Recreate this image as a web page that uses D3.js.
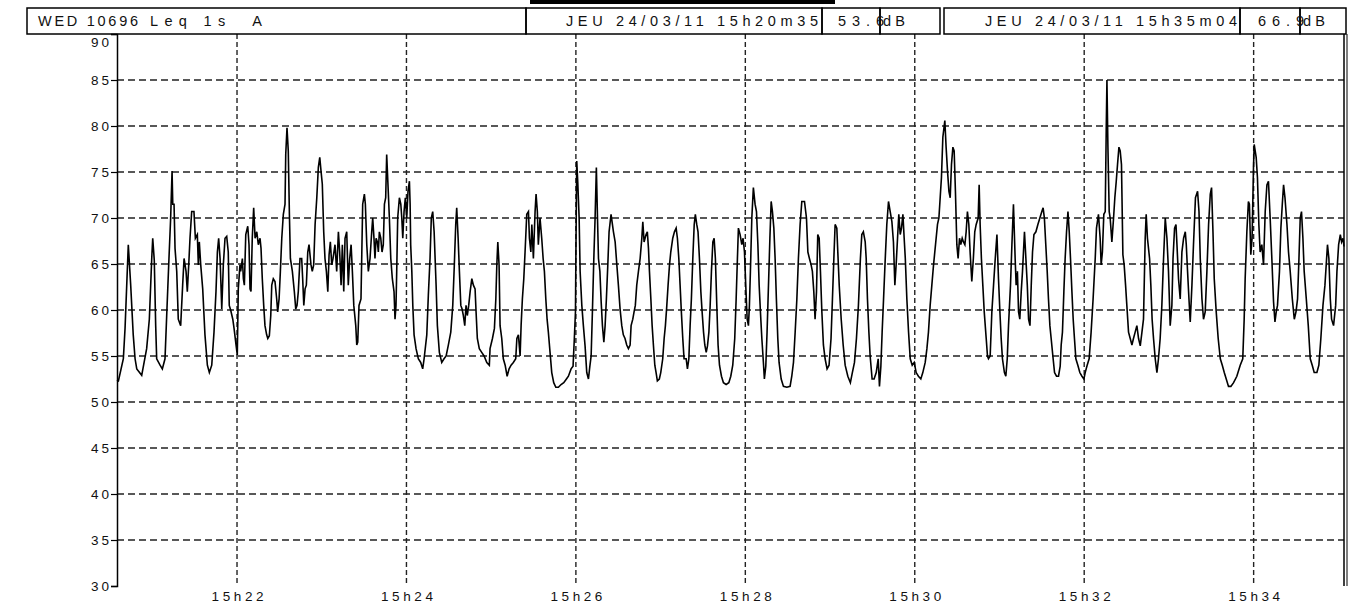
<!DOCTYPE html>
<html>
<head>
<meta charset="utf-8">
<script src="https://cdn.jsdelivr.net/npm/d3@7"></script>
<style>
  body { margin: 0; background: #fff; }
  text { font-family: "Liberation Sans", Arial, sans-serif; fill: #111; }
</style>
</head>
<body>
<div id="chart"></div>
<script>
// header texts
const stationLabel = "WED 10696";
const measureLabel = "Leq 1s\u00a0\u00a0A";
const startStamp = "JEU 24/03/11 15h20m35";
const startLevel = "53.6";
const endStamp = "JEU 24/03/11 15h35m04";
const endLevel = "66.9";
const unitLabel = "dB";

// axis
const startClock = 15 * 3600 + 20 * 60 + 35;   // 15h20m35
const endClock = 15 * 3600 + 35 * 60 + 4;      // 15h35m04
const tickMinutes = [22, 24, 26, 28, 30, 32, 34];
const dbTicks = [30, 35, 40, 45, 50, 55, 60, 65, 70, 75, 80, 85, 90];

// Leq 1s trace: [seconds since 15h20m35, dB(A)]
const leqTrace = [
  [0,52.4],[1,52.3],[4.5,54.7],[5.7,58],[8,67.1],[9.7,62.7],[11.5,57.3],[12.8,54.7],[14,53.6],[17.5,52.9],[21,55.8],[22.9,59],[24.6,65.6],[25.3,67.8],[26.4,65.4],[27.4,58.3],[28.1,54.7],[30.5,54],[32.1,53.6],[34,54.7],[35.2,59.4],[36.8,65.6],[38,70],[39,75.1],[39.5,71.5],[40.4,71.5],[41.1,66.7],[42.3,64.2],[43.4,59],[45.1,58.3],[46.5,62.7],[47.5,65.6],[48.9,64.2],[49.8,62],[50.8,64.9],[51.7,67.8],[52.9,70.7],[54.5,70.7],[55.5,67.8],[56.9,68.2],[57.6,64.9],[58.3,67.4],[59.3,64.9],[60.7,62.3],[62.3,57.3],[64,54],[65.4,53.2],[67.1,54],[68.7,57.6],[70.1,62],[71.1,66.3],[72,67.8],[73,65.6],[74.2,60.1],[75.3,64.9],[76.5,67.8],[77.7,68],[78.8,66.3],[79.5,60.5],[80.5,60],[82,59],[82.9,58],[84.3,56.2],[85.2,55.1],
  [85.9,62.3],[87.1,64.9],[87.6,64.2],[88.8,65.6],[89.5,63.4],[90.2,62.7],[91.2,68.2],[92.6,69.1],[93.5,67.1],[94.2,62.3],[94.9,62],[95.8,67.8],[96.8,71.1],[97.8,67.8],[99,68.5],[100.1,67.1],[101.3,67.8],[102,66.7],[102.9,63.4],[103.9,60.5],[104.8,58.3],[106,57.3],[106.8,56.9],[107.9,57.2],[108.9,59.4],[109.6,62.7],[110.7,63.4],[111.9,63.1],[113.1,61.2],[113.8,59.8],[114.8,61.2],[115.7,64.2],[116.7,67.8],[117.8,70.4],[119,71.5],[119.5,76.9],[120.4,79.8],[121.3,77.3],[122.1,70.4],[122.8,65.6],[124.2,64.2],[125.6,62],[126.6,60.1],[127.5,60.5],[128.4,62],[129.6,65.6],[130.8,65.6],[131.5,63.4],[132.3,60.5],[133.2,62.3],[134.1,62.7],[135.1,66.3],[136,67.1],[137.4,64.9],[138.3,64.2],[139.3,64.9],[140.3,69.3],[141.5,72.2],[142.6,75.5],[143.6,76.6],[144.5,75.1],[145.4,73.7],[146.4,68.5],[147.3,65.6],[148.3,64.2],[149.3,62],[150.2,66],[151.1,67.4],[152.1,64.9],[153,65.6],[154.4,67.1],[155.6,64.2],[156.8,68.5],[157.7,66.3],[158.7,62.7],[159.6,67.1],[160.6,62],[161.5,67.8],[162.7,68.5],[163.8,62.7],[164.8,65.6],[165.8,67.1],[166.7,64.2],[167.7,60.5],[169.1,58.3],[169.8,56.2],[170.5,56.5],[171.4,60.5],[172.8,61.2],[174,71.5],[175.2,72.6],
  [175.9,71.5],[176.9,67.1],[178,64.2],[179.2,65.6],[180.4,68.5],[181.1,70],[182,67.8],[182.7,65.6],[183.5,67.8],[184.4,67.4],[185.1,66.3],[185.8,68.5],[186.8,67.8],[187.7,66.3],[188.6,67.1],[189.4,71.5],[190.3,72.2],[191,76.9],[192,73.3],[192.9,70],[193.9,65.6],[195,63.4],[196.2,62],[196.9,59],[197.6,60.5],[198.1,64.2],[198.8,70],[200,72.2],[201,71.5],[201.7,70],[202.4,67.8],[203.3,70.7],[204.2,72.2],[205.2,70],[206.1,72.9],[207.1,74],[207.6,71.5],[208,67.1],[208.8,64.2],[209.5,60.5],[210.4,57.3],[211.8,55.8],[213.4,54.7],[215.1,54.3],[216.5,53.6],[217.5,54.7],[219.4,57.3],[220.5,61.6],[221.7,65.6],[222.6,70],[223.6,70.7],[224.6,68.5],[225.3,65.6],[226,62.7],[226.9,58.3],[228.3,55.4],[230,54.3],[231.6,54.7],[233.1,55],[234.7,56.2],[236.4,57.6],[237.8,60.5],[238.9,64.9],[239.9,69.3],[240.6,71.1],[241.6,67.8],[242.5,64.2],[243.5,60.5],[244.4,60.1],[245.3,59.4],[246.3,58.3],[247.2,60.5],[248.1,59.4],[249.1,60.5],[250.1,62],[251.3,63.4],[252.4,62.7],[253.6,62.3],[254.3,59.8],[255.2,56.9],[256.6,55.8],[258.3,55.4],[260,55],[261.9,54.3],[263.7,54],
  [264.2,55.8],[265.9,56.9],[267.3,58],[268.3,61.2],[269,64.9],[269.7,67.4],[270.6,64.9],[271.3,58.3],[272.5,56.9],[273.6,54.7],[274.9,54],[276.3,52.8],[277.7,53.6],[279.1,54],[280.7,54.3],[282.4,54.7],[283.2,56.9],[284.3,57.3],[285.5,55],[286.2,58.3],[287.1,61.2],[288.1,63.4],[289,66.3],[290.2,70.4],[291.4,70.7],[292.1,67.8],[293.1,66.3],[293.8,69.3],[294.9,65.6],[296.1,70.7],[296.8,72.6],[297.7,70.7],[298.4,67.1],[299.6,70],[300.8,67.8],[301.8,65.6],[302.7,64.2],[303.7,61.2],[304.6,59],[305.5,57.6],[306.7,55.4],[307.9,53.2],[309.3,52.1],[310.8,51.6],[312.6,51.6],[314.5,51.9],[316.4,52.1],[318.3,52.5],[319.7,52.8],[321.6,53.6],[323,53.9],[323.9,56.9],[324.7,59.8],[325.1,67.8],[325.6,76.2],[326.3,74],[327.3,70],[328,64.2],[329.2,60.5],[330.3,58.3],[331.5,56.1],[332.7,53.2],[333.9,52.5],[334.9,53.9],[335.8,55],[336.7,59.8],[337.7,65.6],[338.6,70],[339.5,75.5],[340.3,70],[341,65.6],[342,64.2],[342.9,60.9],[343.8,58.3],[344.8,56.5],[345.7,58.3],[346.6,61.2],[347.6,64.9],[348.5,68.5],[349.9,70.4],
  [351.6,68.5],[352.8,67.4],[354,64.9],[355.1,62.7],[356.3,60.1],[357.5,58.3],[358.6,57.3],[359.8,56.9],[361,56.2],[362.2,55.8],[363.4,56.2],[364.1,58.3],[365.3,59],[366.2,59.8],[367.1,60.5],[368.1,62.7],[369.3,64.2],[370.5,65.6],[371.7,67.8],[372.4,69.6],[373.3,67.4],[374.7,68.2],[375.6,68.5],[376.4,66.7],[377.1,64.2],[378.1,61.2],[379,58.3],[379.9,56.2],[380.9,54],[381.8,53.2],[382.7,52.3],[384.1,52.5],[385.1,53.2],[386.5,54.7],[387.5,56.9],[388.4,58.3],[389.4,60.5],[390.3,62.7],[391.3,64.9],[392.2,66.3],[393.6,67.8],[394.8,68.5],[396,68.9],[396.9,67.8],[397.9,65.6],[398.8,62.7],[399.7,59.8],[400.7,56.9],[401.6,54.7],[403.1,54.7],[404,53.6],[405,54.7],[405.9,58.3],[406.8,61.2],[407.8,65.6],[408.8,69.3],[409.6,70.4],[410.6,69.3],[411.5,68.5],[412.5,65.6],[413.5,62],[414.4,59.8],[415.4,57.6],[416.3,56.2],[417.3,55.4],[418.2,56.1],[419.2,57.6],[420.1,60.5],[421,64.2],[422,67.4],[422.9,67.8],[423.8,65.6],[424.8,60.5],[425.7,56.2],[426.7,54],[428.1,52.8],[429.5,52.1],[431.4,51.9],[433.3,52.1],[434.7,52.8],[436.1,54],[437.5,56.9],[438.5,61.2],[439.4,65.6],[440.1,68.9],
  [441.3,68.2],[442.5,67.1],[443.4,67.8],[444.4,66.3],[445.3,62.7],[446.3,59],[447.2,58.3],[447.9,60.5],[448.6,64.2],[449.6,70],[450.7,73.3],[451.9,71.5],[452.9,70.7],[453.9,67.1],[454.8,62.7],[455.7,59.8],[456.7,56.9],[457.8,54.3],[458.5,52.5],[459.5,53.9],[460.4,57.6],[461.4,62.7],[462.4,67.8],[463.3,71.8],[464.2,70.7],[465.2,68.9],[466.1,65.6],[467,61.2],[468,56.9],[468.9,54.3],[470.4,52.5],[472,51.7],[474.4,51.6],[476.7,51.7],[477.9,52.8],[479.1,54.3],[480.3,57.6],[481.5,61.2],[482.6,65.6],[483.8,69.3],[485,71.8],[486.9,71.8],[488.3,70],[489.3,66.3],[490.4,65.6],[491.6,64.9],[492.5,64.2],[493.5,62],[494.4,59],[495.4,62],[496.3,68.2],[497.3,67.8],[498.2,64.2],[499.2,59.8],[500.3,56.2],[501.5,54.7],[502.9,53.6],[504.3,54],[505.7,56.9],[506.7,61.2],[507.7,65.6],[508.6,69.3],[509.8,68.9],[510.5,66.3],[511.5,62.7],[512.9,59],[514.3,56.2],[515.7,54],[517.6,52.8],[519.4,52.1],[520.8,53.2],[522.3,54.3],[523.7,56.9],[525.1,60.5],[526.5,65.6],
  [527.5,68.2],[528.6,68.5],[529.9,67.4],[530.6,65.6],[531.5,61.2],[532.5,57.6],[533.4,55],[534.8,52.5],[536.2,52.5],[537.7,53.2],[539.1,54.7],[540,51.7],[541,53.9],[541.9,57.6],[542.9,61.2],[544.1,65.6],[545.2,69.3],[546.4,71.8],[547.6,70.7],[548.8,69.6],[549.9,67.4],[550.9,62.7],[551.8,64.9],[552.8,67.8],[553.7,70.4],[554.7,68.2],[555.6,68.9],[556.6,70.4],[557.5,67.8],[558.3,65.6],[559.4,61.2],[560.6,57.6],[561.8,54.7],[563.2,54],[564.6,54.3],[566,53.2],[567.6,52.8],[569.3,52.5],[570.7,53.2],[572.4,54.3],[573.6,55.8],[574.7,57.6],[575.9,60.5],[577.1,62.7],[578.3,64.9],[579.7,67.1],[581.1,69.3],[582.1,70],[583,72.2],[583.9,74.4],[584.9,78.8],[586.3,80.6],[587.2,77.7],[588.2,75.1],[589.2,72.9],[590.1,72.2],[591,75.8],[592,77.7],[592.9,77.3],[593.8,72.9],[594.8,67.1],[595.7,65.6],[596.7,67.8],[597.6,67.1],[598.6,67.8],[599.5,67.4],[600.5,67.1],[601.4,68.5],[602.3,70.7],[603.3,69.3],[604.2,66.3],[605.4,63.1],[606.5,65.6],[607.5,68.5],[608.5,69.3],[609.9,70],[610.6,73.6],[611.3,69.3],[612.2,65.6],[613.2,62.7],[614.2,59.8],[615.6,56.9],[616.5,55],
  [617.2,54.7],[618.4,55],[619.6,59.8],[620.8,62.7],[622,65.6],[623.2,68.2],[624.3,63.4],[625.3,59.8],[626.2,56.9],[627.1,54.7],[628.5,53.2],[629.5,52.8],[630.5,54.7],[631.4,58.3],[632.8,62.7],[633.8,67.1],[634.9,71.5],[636.1,65.6],[636.8,62.7],[637.7,64.2],[638.5,59.8],[639.4,59],[640.4,62],[641.3,64.2],[642.7,68.5],[643.7,65.6],[644.7,62.7],[645.6,59],[646.6,58.3],[647.5,62.7],[648.4,66.3],[649.4,68.2],[650.8,68.5],[652.2,69.3],[653.6,70],[655,70.7],[655.9,71.1],[656.8,70],[657.8,67.1],[658.8,64.2],[659.7,61.2],[660.7,58.3],[661.6,56.9],[663,54.7],[664,53.2],[665.4,52.8],[666.8,52.8],[668,53.9],[668.7,56.2],[669.6,57.6],[670.6,62],[671.5,65.6],[672.5,68.5],[673.5,70.7],[674.4,68.5],[675.3,65.6],[676.3,62],[677.2,59],[678.1,56.9],[679.1,54.7],[680.5,54],[681.9,53.2],[683.4,52.8],[684.8,52.5],[685.7,53.2],[687.1,54],[688.5,54.7],[689.9,57.6],[691.3,61.2],[692.8,65.6],[693.7,68.9],[695.1,70.4],[696.3,67.8],[697,64.9],[697.9,66.3],[698.9,70.4],[699.9,70.7],[700.6,79.5],[701.1,85],[701.8,77.7],[702.7,70.7],
  [703.4,70],[704.6,67.4],[705.8,70],[706.7,72.2],[707.7,74],[708.6,75.8],[709.6,77.7],[710.5,77.3],[711.4,75.8],[712.4,66],[713.3,64.9],[714.3,62.7],[715.2,60.5],[716.4,57.6],[717.6,56.9],[718.8,56.2],[719.9,56.9],[721.1,57.6],[722.3,58.3],[723.5,56.9],[724.7,56.1],[725.9,57.6],[727,59],[728.2,67.8],[728.9,70.4],[729.8,67.8],[731.3,65.6],[732.2,62.7],[733.1,59],[734.1,56.9],[735.3,54.7],[736.5,53.2],[737.6,54.7],[738.8,56.9],[740,60.5],[741.2,65.6],[742.4,70],[743.6,67.8],[744.7,64.2],[745.9,58.3],[747.1,60.5],[747.9,65.6],[749,68.9],[750,69.3],[750.7,67.1],[751.8,63.4],[753,61.2],[754.2,66.3],[755.4,67.8],[756.6,68.5],[757.3,67.1],[758.2,64.2],[759.2,61.2],[760.1,58.7],[761.3,62.7],[762.4,67.1],[763.8,72.2],[765.3,72.9],[766.3,70.7],[767.2,65.6],[768.4,61.2],[769.5,59],[770.7,59.8],[771.9,64.2],[773.1,69.3],[774.3,72.6],[775.2,73.3],[776.2,68.5],[777.1,63.4],[778.5,59.8],[779.9,56.9],[781.4,54.7],[782.8,54],[784.2,53.2],[785.6,52.5],[787.2,51.7],[788.9,51.7],[790.8,52.1],
  [793.1,52.8],[795.5,54],[797.3,54.7],[798.3,59],[799,63.4],[800.2,68.5],[801.3,71.8],[802,71.5],[803,66],[803.9,67.8],[804.9,75.5],[805.4,78],[806.1,77.3],[806.8,76.6],[807.7,74.4],[808.7,69.3],[809.6,66.3],[810.8,67.1],[812,64.9],[813.2,70.7],[814.4,73.6],[815.5,74],[816.7,70],[817.9,65.6],[819.1,60.9],[820.1,58.7],[821,59.8],[821.9,60.5],[823.3,64.2],[824.3,68.9],[825.3,71.5],[826.2,73.6],[827.2,72.2],[828.6,69.3],[829.7,66.3],[830.9,64.2],[832.4,61.2],[833.8,59],[835,59.8],[836.1,61.2],[837.1,65.6],[838,70],[838.9,70.7],[839.9,67.8],[840.8,64.2],[842.3,61.2],[843.7,58.3],[845.1,54.7],[846.5,54],[847.9,53.2],[849.8,53.2],[851.2,54],[852.6,56.9],[854.1,60.5],[855.5,62.7],[856.4,64.9],[857.3,67.1],[858.3,65.6],[859.3,61.2],[860.2,59],[861.6,58.3],[863.1,60.5],[864,64.2],[865.2,67.1],[866.4,68.2],[867.3,67.4],[868.3,67.8],[869,66.9]
];

// set the dimensions of the plot frame
const W = 1352, H = 606;
const plot = {left: 117, right: 1344, top: 34, bottom: 586};

const svg = d3.select("#chart")
  .append("svg")
  .attr("width", W)
  .attr("height", H);

const x = d3.scaleLinear()
  .domain([0, endClock - startClock])
  .range([plot.left, plot.right]);
const y = d3.scaleLinear()
  .domain([30, 90])
  .range([plot.bottom, plot.top]);

const minuteToSec = (m) => 15 * 3600 + m * 60 - startClock;

// horizontal dashed grid
svg.append("g")
  .selectAll("line")
  .data(dbTicks.filter((d) => d > 30 && d < 90))
  .join("line")
  .attr("x1", plot.left)
  .attr("x2", plot.right)
  .attr("y1", (d) => y(d))
  .attr("y2", (d) => y(d))
  .attr("stroke", "#222")
  .attr("stroke-width", 1.4)
  .attr("stroke-dasharray", "7,4");

// vertical dashed grid
svg.append("g")
  .selectAll("line")
  .data(tickMinutes)
  .join("line")
  .attr("x1", (d) => x(minuteToSec(d)))
  .attr("x2", (d) => x(minuteToSec(d)))
  .attr("y1", plot.top)
  .attr("y2", plot.bottom)
  .attr("stroke", "#222")
  .attr("stroke-width", 1.4)
  .attr("stroke-dasharray", "5,3");

// y axis: line, ticks and labels
const yAxis = d3.axisLeft(y)
  .tickValues(dbTicks)
  .tickSize(6)
  .tickFormat(d3.format("d"));
const gy = svg.append("g")
  .attr("transform", `translate(${plot.left},0)`)
  .call(yAxis);
gy.select(".domain").attr("stroke", "#000").attr("stroke-width", 1.5);
gy.selectAll(".tick line").attr("stroke", "#000").attr("stroke-width", 1.2);
gy.selectAll(".tick text")
  .attr("x", -8)
  .attr("dy", (d) => d === 90 ? "0.95em" : "0.32em")
  .attr("textLength", 18)
  .attr("lengthAdjust", "spacing")
  .style("font-size", "13.5px")
  .attr("fill", "#111");

// x axis labels
const xAxis = d3.axisBottom(x)
  .tickValues(tickMinutes.map(minuteToSec))
  .tickSize(0)
  .tickFormat((d) => "15h" + String((d + startClock - 15 * 3600) / 60));
const gx = svg.append("g")
  .attr("transform", `translate(0,${plot.bottom})`)
  .call(xAxis);
gx.select(".domain").remove();
gx.selectAll(".tick text")
  .attr("y", 5)
  .attr("textLength", 52)
  .attr("lengthAdjust", "spacing")
  .style("font-size", "13.5px")
  .attr("fill", "#111");

// right border (double line)
svg.append("line")
  .attr("x1", plot.right).attr("x2", plot.right)
  .attr("y1", plot.top).attr("y2", plot.bottom)
  .attr("stroke", "#000").attr("stroke-width", 1.5);
svg.append("line")
  .attr("x1", plot.right + 3).attr("x2", plot.right + 3)
  .attr("y1", plot.top).attr("y2", plot.bottom)
  .attr("stroke", "#555").attr("stroke-width", 1.5);

// the trace
const line = d3.line()
  .x((d) => x(d[0]))
  .y((d) => y(d[1]));
svg.append("path")
  .datum(leqTrace)
  .attr("fill", "none")
  .attr("stroke", "#000")
  .attr("stroke-width", 1.6)
  .attr("stroke-linejoin", "miter")
  .attr("d", line);

// header row
const head = svg.append("g");
head.append("rect")
  .attr("x", 530).attr("y", 0).attr("width", 305).attr("height", 4)
  .attr("fill", "#000");

const boxes = [
  {x0: 27, x1: 526, label: stationLabel, tx: 38, anchor: "start", len: 100},
  {x0: 526, x1: 822, label: startStamp, tx: 818, anchor: "end", len: 252},
  {x0: 822, x1: 880, label: startLevel, tx: 884, anchor: "end", len: 46},
  {x0: 880, x1: 940, label: unitLabel, tx: 883, anchor: "start", len: 22},
  {x0: 944, x1: 1240, label: endStamp, tx: 1237, anchor: "end", len: 252},
  {x0: 1240, x1: 1300, label: endLevel, tx: 1304, anchor: "end", len: 46},
  {x0: 1300, x1: 1346, label: unitLabel, tx: 1303, anchor: "start", len: 22}
];
head.selectAll("rect.box")
  .data(boxes)
  .join("rect")
  .attr("class", "box")
  .attr("x", (d) => d.x0)
  .attr("y", 8)
  .attr("width", (d) => d.x1 - d.x0)
  .attr("height", 26)
  .attr("fill", "none")
  .attr("stroke", "#000")
  .attr("stroke-width", 1.5);
head.selectAll("text.box")
  .data(boxes)
  .join("text")
  .attr("class", "box")
  .attr("x", (d) => d.tx)
  .attr("y", 26)
  .attr("text-anchor", (d) => d.anchor)
  .attr("textLength", (d) => d.len)
  .attr("lengthAdjust", "spacing")
  .style("font-size", "14.5px")
  .text((d) => d.label);
head.append("text")
  .attr("x", 150)
  .attr("y", 26)
  .attr("textLength", 112)
  .attr("lengthAdjust", "spacing")
  .style("font-size", "14.5px")
  .text(measureLabel);
</script>
</body>
</html>
